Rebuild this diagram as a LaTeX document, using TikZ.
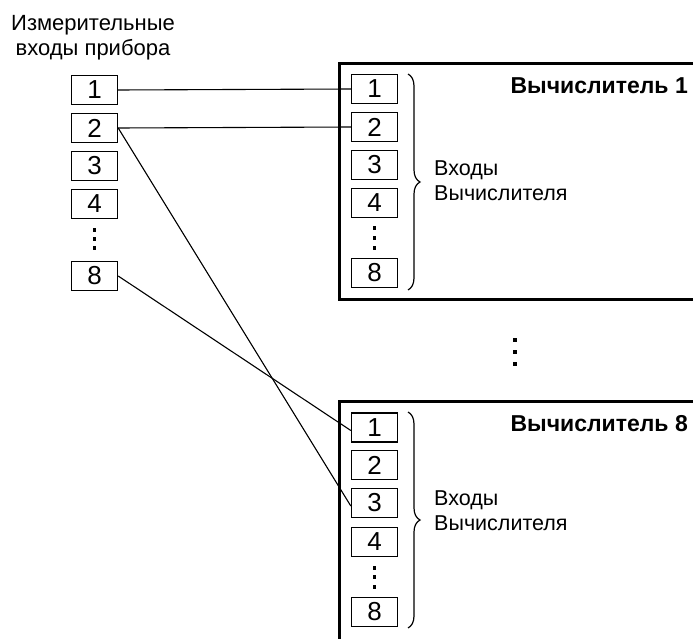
\documentclass[tikz,border=0pt]{standalone}
\usepackage{fontspec}
\setmainfont{Liberation Sans}
\usetikzlibrary{decorations.pathreplacing}
\begin{document}
\begin{tikzpicture}[x=1pt,y=-1pt,
  inbox/.style={draw, line width=1.4pt, minimum width=46pt, minimum height=29pt, inner sep=0pt, font=\fontsize{26}{26}\selectfont},
  conn/.style={line width=1.1pt},
  frame/.style={line width=3pt},
  dotsq/.style={fill, inner sep=0pt, minimum size=3.6pt},
  title/.style={font=\fontsize{23}{23}\selectfont\bfseries, anchor=east, inner sep=0pt},
  lbl/.style={font=\fontsize{21.5}{25}\selectfont, align=left, anchor=west, inner sep=0pt},
  brc/.style={decorate, decoration={brace, amplitude=12pt}, line width=1.2pt}
]
\useasboundingbox (0,0) rectangle (693,639);

% left title
\node[font=\fontsize{22}{25}\selectfont, align=center, inner sep=0pt] (ltitle) at (93,38) {Измерительные\\ входы прибора};

% left inputs
\node[inbox] (L1) at (94.5,90) {1};
\node[inbox] (L2) at (94.5,128) {2};
\node[inbox] (L3) at (94.5,166) {3};
\node[inbox] (L4) at (94.5,204) {4};
\node[inbox] (L8) at (94.5,276) {8};
\node[dotsq] (Ld1) at (94.5,230) {};
\node[dotsq] (Ld2) at (94.5,239) {};
\node[dotsq] (Ld3) at (94.5,248) {};

% computer 1
\draw[frame] (700,63.5) -- (339,63.5) -- (339,299.5) -- (700,299.5);
\node[title] (T1) at (688,86) {Вычислитель 1};
\node[inbox] (A1) at (374.5,89) {1};
\node[inbox] (A2) at (374.5,127) {2};
\node[inbox] (A3) at (374.5,165) {3};
\node[inbox] (A4) at (374.5,203) {4};
\node[inbox] (A8) at (374.5,273) {8};
\node[dotsq] (Ad1) at (374.5,228) {};
\node[dotsq] (Ad2) at (374.5,238) {};
\node[dotsq] (Ad3) at (374.5,248) {};
\draw[brc] (408,74) -- (408,290);
\node[lbl] (I1) at (434,181) {Входы\\Вычислителя};

% middle dots
\node[dotsq, minimum size=4.2pt] (M1) at (515,340) {};
\node[dotsq, minimum size=4.2pt] (M2) at (515,352) {};
\node[dotsq, minimum size=4.2pt] (M3) at (515,364) {};

% computer 8
\draw[frame] (700,401) -- (339,401) -- (339,645);
\node[title] (T8) at (688,423.5) {Вычислитель 8};
\node[inbox] (B1) at (374.5,427.5) {1};
\node[inbox] (B2) at (374.5,465) {2};
\node[inbox] (B3) at (374.5,503) {3};
\node[inbox] (B4) at (374.5,542) {4};
\node[inbox] (B8) at (374.5,612) {8};
\node[dotsq] (Bd1) at (374.5,568) {};
\node[dotsq] (Bd2) at (374.5,577) {};
\node[dotsq] (Bd3) at (374.5,587) {};
\draw[brc] (408,412) -- (408,628);
\node[lbl] (I8) at (434,511) {Входы\\Вычислителя};

% connectors
\draw[conn] (L1.east) -- (A1.west);
\draw[conn] (L2.east) -- (A2.west);
\draw[conn] (L2.east) -- ([yshift=-3pt]B3.west);
\draw[conn] (L8.east) -- ([yshift=-3pt]B1.west);
\end{tikzpicture}
\end{document}
